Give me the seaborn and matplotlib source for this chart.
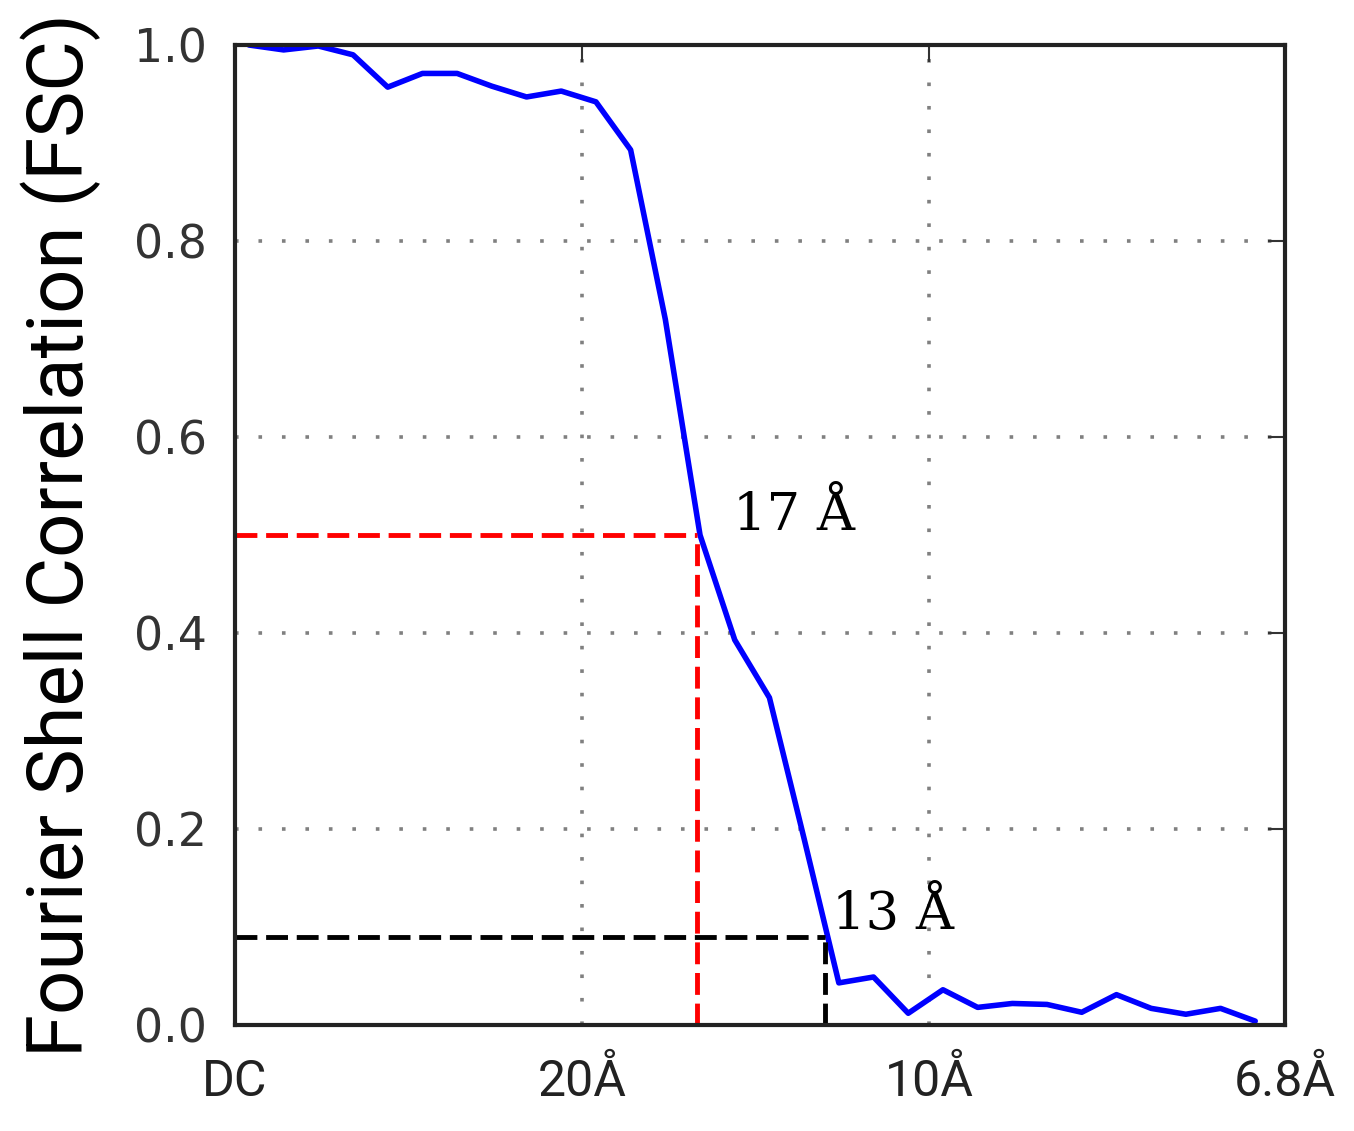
import numpy as np
import pandas as pd
import matplotlib
matplotlib.use("Agg")
import matplotlib.pyplot as plt
import seaborn as sns

# FSC curve, x in Fourier shell units (DC = 0, 20 Å = 10, 10 Å = 20)
shell = [0.4, 1.4, 2.4, 3.4, 4.4, 5.4, 6.4, 7.4, 8.4, 9.4, 10.4, 11.4, 12.4,
         13.4, 14.4, 15.4, 16.4, 17.4, 18.4, 19.4, 20.4, 21.4, 22.4, 23.4,
         24.4, 25.4, 26.4, 27.4, 28.4, 29.4]
fsc = [1.000, 0.995, 0.999, 0.990, 0.957, 0.971, 0.971, 0.958, 0.947, 0.953,
       0.942, 0.893, 0.720, 0.500, 0.393, 0.334, 0.190, 0.043, 0.049, 0.012,
       0.036, 0.018, 0.022, 0.021, 0.013, 0.031, 0.017, 0.011, 0.017, 0.004]

tick_pos = [0, 10, 20, 30.26]
tick_labels = ["DC", "20Å", "10Å", "6.8Å"]

# resolution cut-offs: (shell, fsc threshold, label, colour)
cut_17 = (13.31, 0.5, "17 Å", "red")
cut_13 = (17.0, 0.09, "13 Å", "black")

sns.set_style("white")
plt.rcParams["font.family"] = ["DejaVu Sans"]

fig = plt.figure(figsize=(13.54, 11.31), dpi=100)
ax = fig.add_axes([0.1736, 0.0937, 0.7755, 0.8665])

df = pd.DataFrame({"shell": shell, "fsc": fsc})
sns.lineplot(data=df, x="shell", y="fsc", color="blue", linewidth=4, ax=ax)

for xc, yc, lab, col in [cut_17, cut_13]:
    ax.plot([0, xc], [yc, yc], color=col, linewidth=3.5, dashes=(4.5, 1.8))
    ax.plot([xc, xc], [0, yc], color=col, linewidth=3.5, dashes=(4.5, 1.8))

ax.text(14.35, 0.505, cut_17[2], fontsize=38, family="DejaVu Serif",
        color="black", va="baseline")
ax.text(17.2, 0.098, cut_13[2], fontsize=38, family="DejaVu Serif",
        color="black", va="baseline")

ax.set_xlim(0, 30.26)
ax.set_ylim(0, 1.0)
ax.set_xticks(tick_pos)
ax.set_xticklabels(tick_labels, fontsize=36, color="#222222",
                   family=["Roboto", "DejaVu Sans"])
ax.set_yticks([0.0, 0.2, 0.4, 0.6, 0.8, 1.0])
ax.set_yticklabels(["0.0", "0.2", "0.4", "0.6", "0.8", "1.0"], fontsize=33,
                   color="#333333")
ax.tick_params(axis="both", direction="in", length=12, width=1.5,
               top=True, right=True, colors="#333333")
ax.tick_params(axis="x", pad=24)
ax.tick_params(axis="y", pad=20)
for lab in ax.get_xticklabels():
    lab.set_color("#222222")

ax.grid(True, color="#808080", linewidth=2.6, dashes=(1, 5.5))
ax.set_xlabel("")
ax.set_ylabel("Fourier Shell Correlation (FSC)", fontsize=56, labelpad=24,
              family=["Roboto", "DejaVu Sans"], color="black")

for sp in ax.spines.values():
    sp.set_visible(True)
    sp.set_color("#222222")
    sp.set_linewidth(3)

fig.savefig("out.png", dpi=100)
